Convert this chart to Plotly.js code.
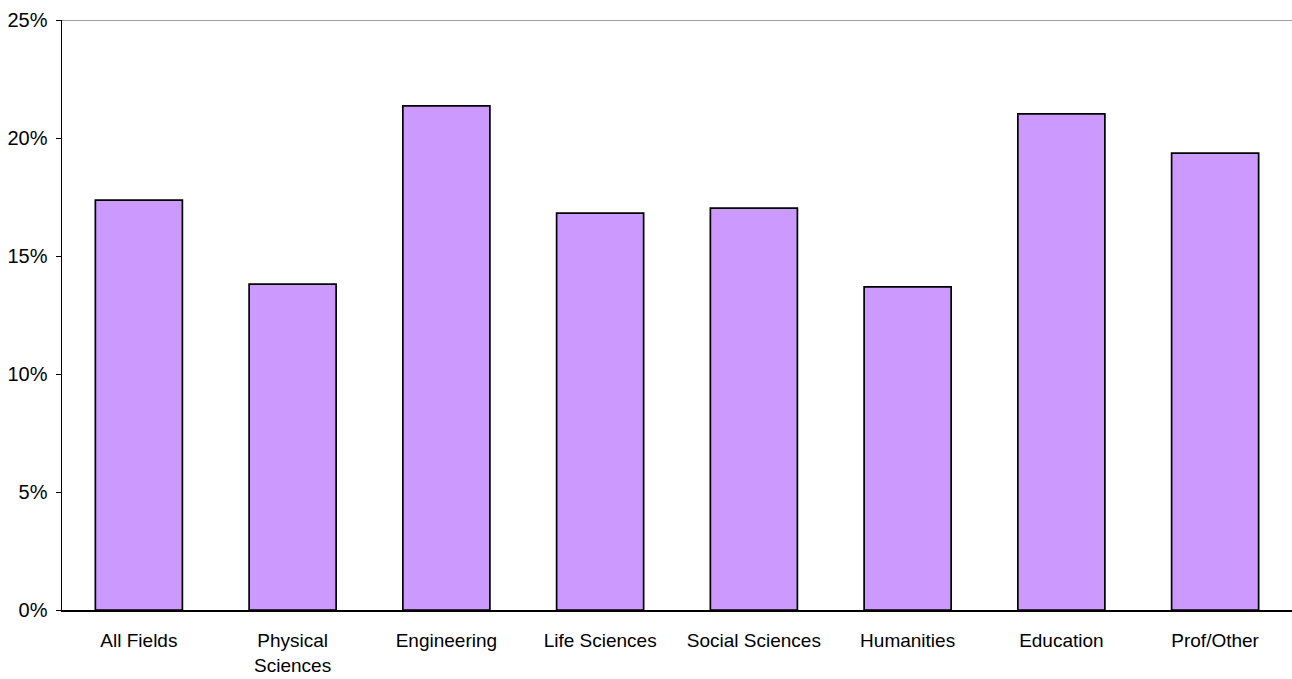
<!DOCTYPE html>
<html>
<head>
<meta charset="utf-8">
<script src="https://cdn.plot.ly/plotly-3.0.1.min.js"></script>
<style>html,body{margin:0;padding:0;background:#fff;}#chart{width:1292px;height:679px;}</style>
</head>
<body>
<div id="chart"></div>
<script>
const categories = ["All Fields", "Physical<br>Sciences", "Engineering", "Life Sciences", "Social Sciences", "Humanities", "Education", "Prof/Other"];
const values = [0.1737, 0.1381, 0.2136, 0.1682, 0.1703, 0.1369, 0.2102, 0.1936];
const yTickVals = [0, 0.05, 0.10, 0.15, 0.20, 0.25];
const yTickText = ["0%", "5%", "10%", "15%", "20%", "25%"];

const trace = {
  type: "bar",
  x: categories,
  y: values,
  marker: { color: "#CC99FF", line: { color: "#000000", width: 1.7 } },
  hoverinfo: "skip"
};

const layout = {
  width: 1292,
  height: 679,
  margin: { l: 62, r: 0, t: 20, b: 69 },
  paper_bgcolor: "#ffffff",
  plot_bgcolor: "#ffffff",
  bargap: 0.434,
  showlegend: false,
  font: { family: "Liberation Sans, Arial, sans-serif", size: 19, color: "#000000" },
  xaxis: {
    type: "category",
    showgrid: false,
    zeroline: false,
    showline: true,
    linecolor: "#000000",
    linewidth: 1.5,
    ticks: "",
    ticklabelstandoff: 13,
    tickfont: { size: 19 },
    fixedrange: true
  },
  yaxis: {
    range: [0, 0.25],
    tickvals: yTickVals,
    ticktext: yTickText,
    showgrid: false,
    zeroline: false,
    showline: true,
    linecolor: "#000000",
    linewidth: 1.5,
    ticks: "outside",
    ticklen: 5,
    tickwidth: 1,
    tickcolor: "#000000",
    ticklabelstandoff: 4,
    tickfont: { size: 20 },
    fixedrange: true
  },
  shapes: [{
    type: "line", xref: "paper", yref: "y",
    x0: 0, x1: 1, y0: 0.25, y1: 0.25,
    line: { color: "#7f7f7f", width: 1.7 }
  }]
};

Plotly.newPlot("chart", [trace], layout, { displayModeBar: false, staticPlot: true });
</script>
</body>
</html>
